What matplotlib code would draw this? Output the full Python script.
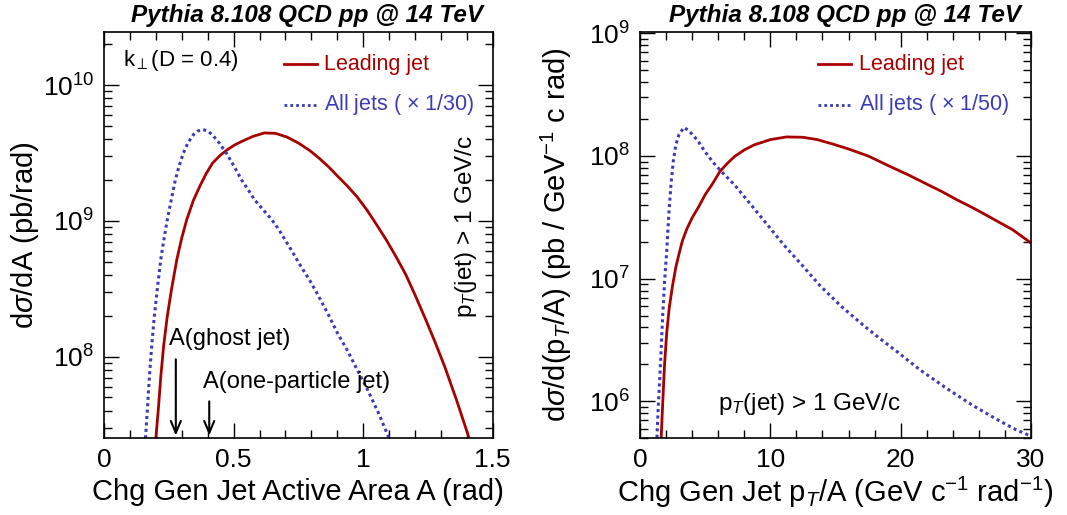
import matplotlib
matplotlib.use("Agg")
import matplotlib.pyplot as plt
from matplotlib.ticker import LogLocator, MultipleLocator, NullFormatter, FixedLocator

plt.rcParams['font.family'] = ['Liberation Sans', 'DejaVu Sans']
plt.rcParams['mathtext.fontset'] = 'custom'
plt.rcParams['mathtext.rm'] = 'Liberation Sans'
plt.rcParams['mathtext.it'] = 'Liberation Sans:italic'
plt.rcParams['mathtext.bf'] = 'Liberation Sans:bold'

# ---- Left panel data: jet active area (rad) ----
area_lead = [0.200, 0.210, 0.219, 0.230, 0.244, 0.260, 0.281, 0.300, 0.319, 0.345, 0.369, 0.395,
             0.419, 0.447, 0.475, 0.503, 0.531, 0.575, 0.619, 0.662, 0.706, 0.750, 0.794, 0.830,
             0.867, 0.900, 0.940, 0.977, 1.015, 1.050, 1.090, 1.128, 1.165, 1.200, 1.240, 1.278,
             1.315, 1.360, 1.409]
sig_lead = [2.5e7, 4.2e7, 7.1e7, 1.2e8, 1.98e8, 3.1e8, 5.2e8, 7.5e8, 1.02e9, 1.42e9, 1.79e9, 2.25e9,
            2.67e9, 3.03e9, 3.34e9, 3.62e9, 3.85e9, 4.2e9, 4.45e9, 4.42e9, 4.15e9, 3.75e9, 3.3e9, 2.9e9,
            2.5e9, 2.15e9, 1.8e9, 1.5e9, 1.2e9, 9.5e8, 7.2e8, 5.4e8, 4.0e8, 2.85e8, 1.9e8, 1.27e8,
            8.4e7, 4.8e7, 2.5e7]
area_all = [0.160, 0.167, 0.175, 0.184, 0.194, 0.206, 0.219, 0.231, 0.244, 0.260, 0.275, 0.290,
            0.306, 0.325, 0.344, 0.362, 0.381, 0.400, 0.419, 0.447, 0.475, 0.503, 0.531, 0.556,
            0.581, 0.612, 0.644, 0.670, 0.694, 0.725, 0.756, 0.790, 0.819, 0.865, 0.900, 0.940,
            0.980, 1.015, 1.060, 1.100]
sig_all = [2.5e7, 4.0e7, 7.1e7, 1.2e8, 1.98e8, 3.2e8, 5.2e8, 7.3e8, 1.02e9, 1.45e9, 2.0e9, 2.55e9,
           3.16e9, 3.8e9, 4.3e9, 4.6e9, 4.72e9, 4.6e9, 4.3e9, 3.7e9, 3.1e9, 2.5e9, 2.0e9, 1.7e9,
           1.43e9, 1.22e9, 1.04e9, 8.9e8, 7.5e8, 6.0e8, 4.75e8, 3.75e8, 3.0e8, 2.05e8, 1.5e8, 1.1e8,
           7.8e7, 5.8e7, 3.8e7, 2.5e7]

# ---- Right panel data: pT/A (GeV c^-1 rad^-1) ----
pta_lead = [1.625, 1.75, 1.875, 2.05, 2.25, 2.5, 2.75, 3.0, 3.25, 3.6, 4.0, 4.5, 5.0, 5.55, 6.125,
            6.7, 7.25, 8.0, 8.75, 10.0, 11.25, 12.5, 13.6, 14.8, 16.0, 17.5, 19.2, 20.6, 22.0,
            23.2, 24.3, 25.6, 26.9, 28.6, 30.0]
sig_pta_lead = [5.05e5, 1.0e6, 1.92e6, 3.6e6, 5.86e6, 8.8e6, 1.24e7, 1.6e7, 2.03e7, 2.55e7, 3.13e7,
                3.85e7, 4.84e7, 5.9e7, 7.46e7, 8.7e7, 9.89e7, 1.12e8, 1.23e8, 1.36e8, 1.43e8, 1.42e8,
                1.36e8, 1.25e8, 1.14e8, 1.0e8, 8.2e7, 7.0e7, 5.9e7, 5.1e7, 4.4e7, 3.75e7, 3.15e7,
                2.5e7, 1.95e7]
pta_all = [1.30, 1.40, 1.50, 1.62, 1.75, 1.90, 2.05, 2.20, 2.375, 2.55, 2.75, 3.0, 3.375, 3.7,
           4.125, 4.5, 5.0, 5.6, 6.25, 7.25, 8.5, 9.75, 11.0, 12.4, 13.8, 15.4, 17.1, 18.4, 19.7,
           21.5, 23.5, 25.5, 27.4, 28.8, 30.0]
sig_pta_all = [5.05e5, 9.0e5, 1.4e6, 2.6e6, 5.2e6, 1.0e7, 1.68e7, 3.2e7, 5.8e7, 9.0e7, 1.23e8, 1.5e8,
               1.71e8, 1.62e8, 1.46e8, 1.3e8, 1.08e8, 8.9e7, 7.46e7, 5.82e7, 4.02e7, 2.77e7, 1.9e7,
               1.3e7, 8.8e6, 6.0e6, 4.2e6, 3.25e6, 2.55e6, 1.8e6, 1.28e6, 9.3e5, 7.1e5, 5.9e5, 5.2e5]

RED = '#a80000'
BLUE = '#3c3cb4'
DOT = (0, (1.0, 1.1))
title = 'Pythia 8.108 QCD pp @ 14 TeV'

fig = plt.figure(figsize=(10.67, 5.15), dpi=100)
axL = fig.add_axes([0.0975, 0.149, 0.3643, 0.7894])
axR = fig.add_axes([0.5998, 0.149, 0.3665, 0.7894])

def style(ax):
    ax.tick_params(which='both', direction='in', top=True, right=True, labelsize=19, pad=7)
    ax.tick_params(which='major', length=11, width=1.0)
    ax.tick_params(which='minor', length=6, width=1.0)
    for s in ax.spines.values():
        s.set_linewidth(1.2)

# ---------- Left panel ----------
axL.plot(area_lead, sig_lead, color=RED, lw=2.0)
axL.plot(area_all, sig_all, color=BLUE, lw=2.2, linestyle=DOT)
axL.set_yscale('log')
axL.set_xlim(0, 1.5)
axL.set_ylim(2.5e7, 2.48e10)
axL.xaxis.set_major_locator(FixedLocator([0, 0.5, 1.0, 1.5]))
axL.xaxis.set_minor_locator(MultipleLocator(0.1))
axL.set_xticklabels(['0', '0.5', '1', '1.5'])
axL.yaxis.set_major_locator(LogLocator(base=10, numticks=10))
axL.yaxis.set_minor_locator(LogLocator(base=10, subs=range(2, 10), numticks=20))
axL.yaxis.set_minor_formatter(NullFormatter())
style(axL)
axL.set_xlabel('Chg Gen Jet Active Area A (rad)', fontsize=21, labelpad=4)
axL.set_ylabel(r'd$\sigma$/dA (pb/rad)', fontsize=21, labelpad=1)
axL.text(0.975, 1.012, title, transform=axL.transAxes, fontsize=17.5, fontweight='bold',
         fontstyle='italic', ha='right', va='bottom')
axL.text(0.05, 0.93, r'k$_{\perp}$(D = 0.4)', transform=axL.transAxes, fontsize=16, va='center')
axL.plot([0.462, 0.547], [0.92, 0.92], transform=axL.transAxes, color=RED, lw=2.0)
axL.text(0.566, 0.92, 'Leading jet', transform=axL.transAxes, color=RED, fontsize=15.5, va='center')
axL.plot([0.462, 0.547], [0.82, 0.82], transform=axL.transAxes, color=BLUE, lw=2.0, linestyle=DOT)
axL.text(0.566, 0.82, r'All jets ( $\times$ 1/30)', transform=axL.transAxes, color=BLUE,
         fontsize=15.5, va='center')
axL.text(0.93, 0.52, r'p$_{T}$(jet) > 1 GeV/c', transform=axL.transAxes, fontsize=17.5,
         rotation=90, ha='center', va='center')
arr = dict(arrowstyle='->,head_length=0.85,head_width=0.36', color='black', lw=1.5)
axL.annotate('', xy=(0.277, 2.5e7), xytext=(0.277, 1.0e8), arrowprops=arr)
axL.annotate('', xy=(0.406, 2.5e7), xytext=(0.406, 4.9e7), arrowprops=arr)
axL.text(0.25, 1.12e8, 'A(ghost jet)', fontsize=17, va='bottom')
axL.text(0.38, 5.4e7, 'A(one-particle jet)', fontsize=17, va='bottom')

# ---------- Right panel ----------
axR.plot(pta_lead, sig_pta_lead, color=RED, lw=2.0)
axR.plot(pta_all, sig_pta_all, color=BLUE, lw=2.2, linestyle=DOT)
axR.set_yscale('log')
axR.set_xlim(0, 30)
axR.set_ylim(5.0e5, 1.03e9)
axR.xaxis.set_major_locator(MultipleLocator(10))
axR.xaxis.set_minor_locator(MultipleLocator(2))
axR.yaxis.set_major_locator(LogLocator(base=10, numticks=10))
axR.yaxis.set_minor_locator(LogLocator(base=10, subs=range(2, 10), numticks=20))
axR.yaxis.set_minor_formatter(NullFormatter())
style(axR)
axR.set_xlabel(r'Chg Gen Jet p$_{T}$/A (GeV c$^{-1}$ rad$^{-1}$)', fontsize=21, labelpad=2)
axR.set_ylabel(r'd$\sigma$/d(p$_{T}$/A) (pb / GeV$^{-1}$ c rad)', fontsize=21, labelpad=11)
axR.text(0.975, 1.012, title, transform=axR.transAxes, fontsize=17.5, fontweight='bold',
         fontstyle='italic', ha='right', va='bottom')
axR.plot([0.455, 0.54], [0.92, 0.92], transform=axR.transAxes, color=RED, lw=2.0)
axR.text(0.56, 0.92, 'Leading jet', transform=axR.transAxes, color=RED, fontsize=15.5, va='center')
axR.plot([0.455, 0.54], [0.82, 0.82], transform=axR.transAxes, color=BLUE, lw=2.0, linestyle=DOT)
axR.text(0.56, 0.82, r'All jets ( $\times$ 1/50)', transform=axR.transAxes, color=BLUE,
         fontsize=15.5, va='center')
axR.text(0.2, 0.085, r'p$_{T}$(jet) > 1 GeV/c', transform=axR.transAxes, fontsize=17.5, va='center')

fig.savefig('out.png', dpi=100)
